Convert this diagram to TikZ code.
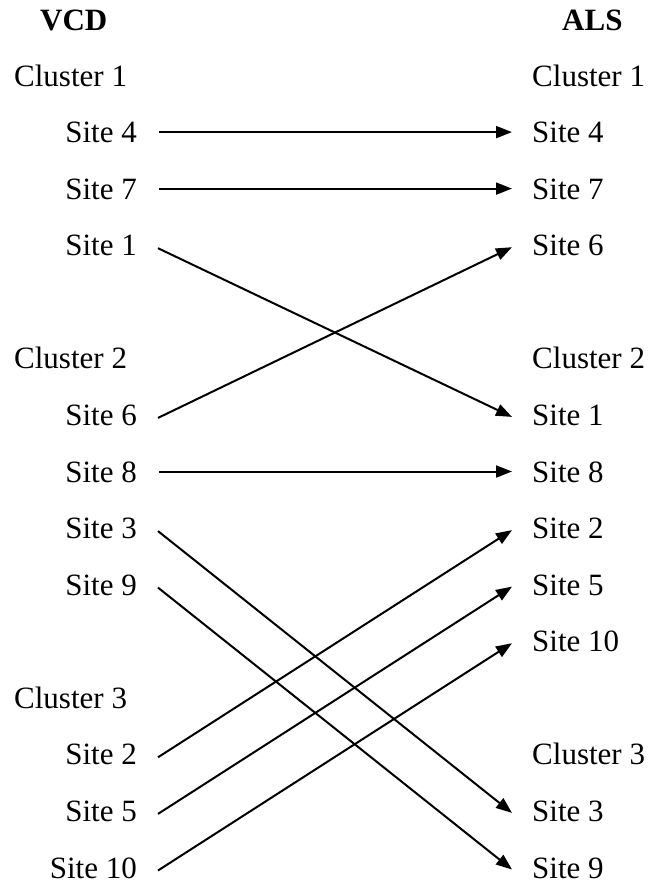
\documentclass[tikz,border=0pt]{standalone}
\usepackage{fontspec}
\setmainfont{Liberation Serif}
\usetikzlibrary{arrows.meta}
\begin{document}
\begin{tikzpicture}[x=1pt,y=-1pt,
  lab/.style={inner sep=0pt, font=\fontsize{31}{36}\selectfont, text height=21pt, text depth=0pt},
  hdr/.style={inner sep=0pt, font=\fontsize{31}{36}\selectfont\bfseries, anchor=base west},
  lft/.style={lab, anchor=base east},
  rgt/.style={lab, anchor=base west},
  cll/.style={lab, anchor=base west},
  link/.style={line width=2pt, -{Triangle[length=16pt,width=12pt]}}]
\useasboundingbox (0,0) rectangle (649,886);
% headers
\node[hdr] (hv) at (40,30) {VCD};
\node[hdr] (ha) at (562,30) {ALS};
% left column
\node[cll] (lc1) at (14,86) {Cluster 1};
\node[lft] (l4) at (137,142.6) {Site 4};
\node[lft] (l7) at (137,199.1) {Site 7};
\node[lft] (l1) at (137,255.7) {Site 1};
\node[cll] (lc2) at (14,368.9) {Cluster 2};
\node[lft] (l6) at (137,425.4) {Site 6};
\node[lft] (l8) at (137,482) {Site 8};
\node[lft] (l3) at (137,538.6) {Site 3};
\node[lft] (l9) at (137,595.1) {Site 9};
\node[cll] (lc3) at (14,708.3) {Cluster 3};
\node[lft] (l2) at (137,764.8) {Site 2};
\node[lft] (l5) at (137,821.4) {Site 5};
\node[lft] (l10) at (137,878) {Site 10};
% right column
\node[rgt] (rc1) at (532,86) {Cluster 1};
\node[rgt] (r4) at (532,142.6) {Site 4};
\node[rgt] (r7) at (532,199.1) {Site 7};
\node[rgt] (r6) at (532,255.7) {Site 6};
\node[rgt] (rc2) at (532,368.9) {Cluster 2};
\node[rgt] (r1) at (532,425.4) {Site 1};
\node[rgt] (r8) at (532,482) {Site 8};
\node[rgt] (r2) at (532,538.6) {Site 2};
\node[rgt] (r5) at (532,595.1) {Site 5};
\node[rgt] (r10) at (532,651.7) {Site 10};
\node[rgt] (rc3) at (532,764.8) {Cluster 3};
\node[rgt] (r3) at (532,821.4) {Site 3};
\node[rgt] (r9) at (532,878) {Site 9};
% connectors
\foreach \a/\b in {l4/r4,l7/r7,l8/r8}
  \draw[link] ([xshift=22pt]\a.east) -- ([xshift=-20pt]\b.west);
\foreach \a/\b in {l1/r1,l6/r6,l3/r3,l9/r9,l2/r2,l5/r5,l10/r10}
  \draw[link] ([xshift=21pt,yshift=-3pt]\a.east) -- ([xshift=-20pt,yshift=-2pt]\b.west);
\end{tikzpicture}
\end{document}
